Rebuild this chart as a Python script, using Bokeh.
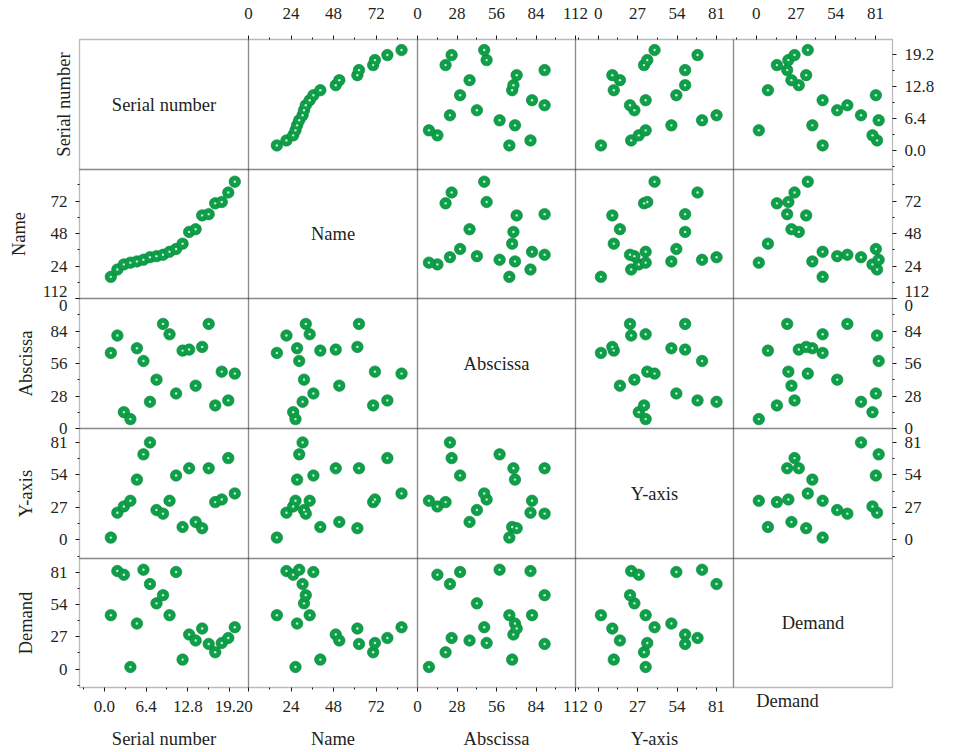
from bokeh.plotting import figure
from bokeh.models import LinearAxis, FixedTicker, Range1d, BoxAnnotation, ColumnDataSource
from bokeh.embed import file_html
from bokeh.resources import INLINE
from bokeh.core.properties import value

# ---------------- data ----------------
serial_number = [1, 2, 3, 4, 5, 6, 7, 8, 9, 10, 11, 12, 13, 14, 15, 16, 17, 18, 19, 20]
name = [16.0, 21.4, 25.2, 26.5, 27.4, 28.6, 30.5, 31.3, 32.3, 34.5,
        36.6, 40.5, 49.2, 51.2, 61.4, 62.3, 70.3, 71.3, 78.3, 86.3]
abscissa = [65.1, 80.1, 14.1, 8.1, 69.1, 58.2, 23.0, 42.1, 90.1, 81.2,
            30.2, 67.1, 68.0, 36.9, 70.3, 90.1, 19.9, 49.0, 24.2, 47.3]
y_axis = [1.9, 22.6, 27.8, 32.5, 50.1, 71.1, 81.0, 24.8, 21.8, 32.5,
          53.5, 10.7, 59.5, 14.9, 9.7, 59.5, 31.4, 33.6, 68.0, 38.6]
demand = [45.1, 82.1, 79.0, 1.7, 38.1, 83.2, 71.2, 55.0, 61.9, 45.1,
          81.3, 7.9, 28.9, 23.9, 33.9, 21.0, 14.0, 21.8, 26.0, 35.0]

var_labels = ["Serial number", "Name", "Abscissa", "Y-axis", "Demand"]
var_keys = ["serial_number", "name", "abscissa", "y_axis", "demand"]

# axis limits and ticks of each variable
limits = [(-3.8, 22.1), (0.0, 95.3), (0.0, 112.0), (-15.5, 92.6), (-15.5, 92.6)]
major_ticks = [[0, 6.4, 12.8, 19.2], [0, 24, 48, 72], [0, 28, 56, 84, 112],
               [0, 27, 54, 81], [0, 27, 54, 81]]
minor_ticks = [[-3.2, 3.2, 9.6, 16.0], [12, 36, 60, 84], [14, 42, 70, 98],
               [-13.5, 13.5, 40.5, 67.5], [-13.5, 13.5, 40.5, 67.5]]
h_overrides = [{0: "0.0"}, {}, {}, {}, {}]
v_overrides = [{0: "0.0"}, {0: ""}, {112: "112\n0"}, {}, {}]

# ---------------- layout ----------------
FW, FH = 960, 752          # whole canvas is the frame
OFF_L, OFF_T = 79, 39      # top-left corner of the matrix
col_w = [169, 169, 158, 158, 159]
row_h = [130, 129, 130, 130, 129]
col_x0 = [OFF_L + sum(col_w[:j]) for j in range(5)]
row_b0 = [FH - (OFF_T + sum(row_h[:i + 1])) for i in range(5)]

FONT = "Liberation Serif"
FS = "17px"
FS_T = "18.5px"
TXT = "#231f20"
INK = "#1a1a1a"


def stretched(lo, hi, p0, p1, total):
    k = (hi - lo) / (p1 - p0)
    return Range1d(lo - k * p0, hi + k * (total - p1))


p = figure(frame_width=FW, frame_height=FH,
           x_range=Range1d(0, FW), y_range=Range1d(0, FH),
           x_axis_type=None, y_axis_type=None,
           toolbar_location=None, output_backend="svg",
           min_border=0, outline_line_color=None,
           background_fill_color="white", border_fill_color="white")

for j in range(5):
    lo, hi = limits[j]
    p.extra_x_ranges[f"x{j}"] = stretched(lo, hi, col_x0[j], col_x0[j] + col_w[j], FW)
for i in range(5):
    lo, hi = limits[i]
    p.extra_y_ranges[f"y{i}"] = stretched(lo, hi, row_b0[i], row_b0[i] + row_h[i], FH)

src = ColumnDataSource(dict(serial_number=serial_number, name=name, abscissa=abscissa,
                            y_axis=y_axis, demand=demand))

for i in range(5):
    for j in range(5):
        lo_x, hi_x = limits[j]
        lo_y, hi_y = limits[i]
        p.add_layout(BoxAnnotation(left=lo_x, right=hi_x, bottom=lo_y, top=hi_y,
                                   x_range_name=f"x{j}", y_range_name=f"y{i}",
                                   fill_color=None, line_color=INK, line_width=1.3))
        if i == j:
            p.text(x=[(lo_x + hi_x) / 2], y=[(lo_y + hi_y) / 2], text=[var_labels[i]],
                   x_range_name=f"x{j}", y_range_name=f"y{i}",
                   text_font=value(FONT), text_font_size=FS_T, text_color=TXT,
                   text_align="center", text_baseline="middle")
            continue
        kw = dict(x=var_keys[j], y=var_keys[i], source=src,
                  x_range_name=f"x{j}", y_range_name=f"y{i}")
        p.scatter(size=11.5, fill_color="#0ea049", line_color="#0a8039", line_width=0.6, **kw)
        p.scatter(size=2.4, fill_color="#dff6e7", fill_alpha=0.9, line_color=None, **kw)


def make_axis(side, cell, cross, loc, ticks=True, overrides=None, label=None,
              label_standoff=8, title_standoff=5, bounds=None):
    if side in ("above", "below"):
        rn = dict(x_range_name=f"x{cell}", y_range_name=f"y{cross}")
    else:
        rn = dict(x_range_name=f"x{cross}", y_range_name=f"y{cell}")
    if ticks:
        tk = FixedTicker(ticks=major_ticks[cell], minor_ticks=minor_ticks[cell])
    else:
        tk = FixedTicker(ticks=[], minor_ticks=[])
    ax = LinearAxis(ticker=tk, fixed_location=loc, bounds=bounds or limits[cell], **rn)
    if overrides:
        ax.major_label_overrides = overrides
    ax.axis_line_color = None
    ax.major_tick_line_color = INK
    ax.minor_tick_line_color = INK
    ax.major_tick_in = 0
    ax.minor_tick_in = 0
    ax.major_tick_out = 4 if ticks else 0
    ax.minor_tick_out = 2 if ticks else 0
    ax.major_label_text_font = FONT
    ax.major_label_text_font_size = FS
    ax.major_label_text_color = TXT
    ax.major_label_text_line_height = 0.75
    ax.major_label_standoff = label_standoff if ticks else 0
    if label:
        ax.axis_label = label
        ax.axis_label_text_font = FONT
        ax.axis_label_text_font_size = FS_T
        ax.axis_label_text_font_style = "normal"
        ax.axis_label_text_color = TXT
        ax.axis_label_standoff = title_standoff
    p.add_layout(ax, side)


# top axes (columns 1..4)
for j in range(1, 5):
    make_axis("above", j, 0, limits[0][1], overrides=h_overrides[j], label_standoff=17)

# bottom axes (columns 0..3 with ticks; column 4 carries only its title)
for j in range(4):
    make_axis("below", j, 4, limits[4][0], overrides=h_overrides[j], label=var_labels[j],
              label_standoff=9, title_standoff=14)
lo4, hi4 = limits[4]
make_axis("below", 4, 4, limits[4][0], ticks=False, label=var_labels[4],
          title_standoff=3, bounds=(lo4, lo4 + (hi4 - lo4) * 0.68))

# left axes (row 0 carries only its title)
make_axis("left", 0, 0, limits[0][0], ticks=False, label=var_labels[0], title_standoff=6)
left_title_standoff = [0, 19, 4, 12, 12]
for i in range(1, 5):
    make_axis("left", i, 0, limits[0][0], overrides=v_overrides[i], label=var_labels[i],
              label_standoff=8, title_standoff=left_title_standoff[i])

# right axes (rows 0..3)
for i in range(4):
    make_axis("right", i, 4, limits[4][1], overrides=v_overrides[i], label_standoff=8)

open("out.html", "w").write(file_html(p, INLINE))
